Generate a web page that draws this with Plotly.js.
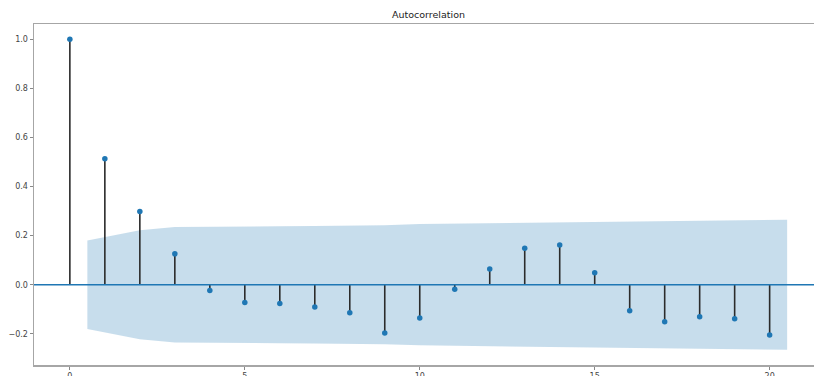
<!DOCTYPE html>
<html>
<head>
<meta charset="utf-8">
<script src="https://cdn.plot.ly/plotly-3.0.1.min.js"></script>
<style>
  html, body { margin: 0; padding: 0; background: #ffffff; overflow: hidden; }
  #chart { width: 850px; height: 376px; }
</style>
</head>
<body>
<div id="chart"></div>
<script>
// Sample autocorrelation by lag
const lags = [0, 1, 2, 3, 4, 5, 6, 7, 8, 9, 10, 11, 12, 13, 14, 15, 16, 17, 18, 19, 20];
const acfValues = [1.0, 0.513, 0.298, 0.126, -0.024, -0.072, -0.077, -0.091, -0.114, -0.197, -0.136,
                   -0.018, 0.064, 0.149, 0.162, 0.049, -0.106, -0.151, -0.130, -0.139, -0.205];
// 95% confidence half-width for lags 1..20 (centred on zero)
const confHalfWidth = [0.180, 0.222, 0.235, 0.237, 0.237, 0.238, 0.239, 0.240, 0.242, 0.247,
                       0.249, 0.249, 0.250, 0.253, 0.256, 0.256, 0.258, 0.261, 0.263, 0.265];
const xTicks = [0, 5, 10, 15, 20];
const yTicks = [-0.2, 0.0, 0.2, 0.4, 0.6, 0.8, 1.0];
const titleText = 'Autocorrelation';

// Band spans from half a lag before lag 1 to half a lag past the last lag
const bandX = lags.slice(1);
bandX[0] -= 0.5;
bandX[bandX.length - 1] += 0.5;

const blue = '#1f77b4';

const bandUpper = {
  x: bandX, y: confHalfWidth, mode: 'lines', type: 'scatter',
  line: { width: 0, color: 'rgba(0,0,0,0)' }, hoverinfo: 'skip', showlegend: false
};
const bandLower = {
  x: bandX, y: confHalfWidth.map(v => -v), mode: 'lines', type: 'scatter',
  fill: 'tonexty', fillcolor: 'rgba(31,119,180,0.25)',
  line: { width: 0, color: 'rgba(0,0,0,0)' }, hoverinfo: 'skip', showlegend: false
};

// Vertical stems from zero to each value
const stemX = [], stemY = [];
lags.forEach((l, i) => { stemX.push(l, l, null); stemY.push(0, acfValues[i], null); });
const stems = {
  x: stemX, y: stemY, mode: 'lines', type: 'scatter',
  line: { color: '#2b2b2b', width: 1.6 }, hoverinfo: 'skip', showlegend: false
};

const markers = {
  x: lags, y: acfValues, mode: 'markers', type: 'scatter',
  marker: { color: blue, size: 5.5 }, showlegend: false
};

const tickFont = { family: 'DejaVu Sans, sans-serif', size: 8, color: '#444444' };

const layout = {
  width: 850, height: 376,
  margin: { l: 34, r: 27, t: 24, b: 11, pad: 0 },
  paper_bgcolor: '#ffffff', plot_bgcolor: '#ffffff',
  title: {
    text: titleText, x: 0.5, xref: 'paper', xanchor: 'center',
    y: 1 - 15 / 376, yref: 'container', yanchor: 'middle',
    font: { family: 'DejaVu Sans, sans-serif', size: 9.5, color: '#222222' }
  },
  xaxis: {
    range: [-1.025, 21.525], tickvals: xTicks, ticktext: xTicks.map(String),
    ticks: 'outside', ticklen: 3, tickwidth: 1, tickcolor: '#888888',
    showline: true, mirror: true, linecolor: '#a6a6a6', linewidth: 1.5,
    showgrid: false, zeroline: false, automargin: false, tickfont: tickFont
  },
  yaxis: {
    range: [-0.327, 1.062], tickvals: yTicks, ticktext: yTicks.map(v => v.toFixed(1).replace('-', '\u2212')),
    ticks: 'outside', ticklen: 3, tickwidth: 1, tickcolor: '#888888',
    showline: true, mirror: true, linecolor: '#a6a6a6', linewidth: 1.5,
    showgrid: false, zeroline: false, automargin: false, tickfont: tickFont
  },
  shapes: [{
    type: 'line', xref: 'paper', x0: 0, x1: 1, yref: 'y', y0: 0, y1: 0,
    line: { color: blue, width: 1.5 }, layer: 'above'
  }]
};

Plotly.newPlot('chart', [bandUpper, bandLower, stems, markers], layout, { staticPlot: true, displayModeBar: false });
</script>
</body>
</html>
